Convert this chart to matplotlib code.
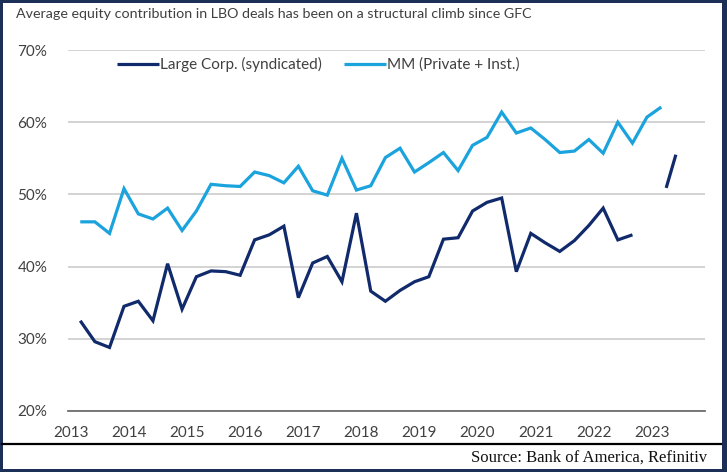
import numpy as np
import pandas as pd
import matplotlib
matplotlib.use("Agg")
import matplotlib.pyplot as plt
from matplotlib.patches import Rectangle
from matplotlib.lines import Line2D
from matplotlib import font_manager

# ---------------- data ----------------
mm_dates = pd.date_range("2013-03-01", "2023-03-01", freq="3MS")
mm_values = [46.2, 46.2, 44.6, 50.8, 47.3, 46.6, 48.1, 45.0, 47.7, 51.4,
             51.2, 51.1, 53.1, 52.6, 51.6, 53.9, 50.5, 49.9, 55.0, 50.6,
             51.2, 55.1, 56.4, 53.1, 54.4, 55.8, 53.3, 56.8, 57.9, 61.4,
             58.5, 59.2, 57.6, 55.8, 56.0, 57.6, 55.7, 60.0, 57.1, 60.7,
             62.1]

lc_dates_hist = pd.date_range("2013-03-01", "2022-12-01", freq="3MS")
lc_values_hist = [32.5, 29.6, 28.8, 34.5, 35.2, 32.5, 40.4, 34.1, 38.6, 39.4,
                  39.3, 38.8, 43.7, 44.4, 45.6, 35.7, 40.5, 41.4, 37.9, 47.4,
                  36.6, 35.2, 36.7, 37.9, 38.6, 43.8, 44.0, 47.7, 48.9, 49.5,
                  39.3, 44.6, 43.3, 42.1, 43.6, 45.7, 48.1, 43.7, 44.4, np.nan]
lc_dates_recent = ["2023-04-01", "2023-06-01"]
lc_values_recent = [50.9, 55.5]

series_names = ["Large Corp. (syndicated)", "MM (Private + Inst.)"]
y_ticks = [20, 30, 40, 50, 60, 70]
x_years = list(range(2013, 2024))
title = "Average equity contribution in LBO deals has been on a structural climb since GFC"
source = "Source: Bank of America, Refinitiv"

# ---------------- style ----------------
avail = {f.name for f in font_manager.fontManager.ttflist}
main_font = [f for f in ["Lato", "Roboto", "DejaVu Sans"] if f in avail]
plt.rcParams["font.family"] = main_font

navy = "#102a6b"
light = "#1ba3dd"
txt = "#404040"

fig = plt.figure(figsize=(7.27, 4.72), dpi=100)
ax = fig.add_axes([68 / 727, 1 - 411 / 472, (705 - 68) / 727, (411 - 50) / 472])

lc_dates = list(lc_dates_hist) + list(pd.to_datetime(lc_dates_recent))
lc_values = lc_values_hist + lc_values_recent

ax.plot(lc_dates, lc_values, color=navy, lw=2.3, label=series_names[0],
        solid_joinstyle="miter", solid_capstyle="butt")
ax.plot(mm_dates, mm_values, color=light, lw=2.3, label=series_names[1],
        solid_joinstyle="miter", solid_capstyle="butt")

ax.set_ylim(20, 70)
ax.set_yticks(y_ticks)
ax.set_yticklabels([f"{v}%" for v in y_ticks])
ax.set_xlim(pd.Timestamp("2012-12-14"), pd.Timestamp("2023-12-01"))
ax.set_xticks([pd.Timestamp(f"{y}-01-01") for y in x_years])
ax.set_xticklabels([str(y) for y in x_years])

ax.grid(axis="y", color="#c8c8c8", lw=1.1)
ax.set_axisbelow(True)
for s in ["top", "right", "left"]:
    ax.spines[s].set_visible(False)
ax.spines["bottom"].set_color("#6e6e6e")
ax.spines["bottom"].set_linewidth(1.3)
ax.tick_params(axis="both", length=0, labelsize=11, colors=txt)
ax.tick_params(axis="x", pad=10.5)
ax.tick_params(axis="y", pad=15)

leg = ax.legend(loc="upper left", bbox_to_anchor=(117 / 727, 1 - 57 / 472),
                bbox_transform=fig.transFigure, ncol=2, frameon=False,
                fontsize=11, handlelength=2.75, handletextpad=0.05,
                columnspacing=1.45, borderpad=0, borderaxespad=0)
for t in leg.get_texts():
    t.set_color(txt)

fig.text(16 / 727, 1 - 14 / 472, title, ha="left", va="center",
         fontsize=10.3, color=txt)

fig.text(707 / 727, 1 - 458 / 472, source, ha="right", va="center",
         fontsize=12, color="#111111", family=["Liberation Serif", "DejaVu Serif"])

# separator line and frame
fig.add_artist(Line2D([2 / 727, 721 / 727], [1 - 443.5 / 472] * 2,
                      transform=fig.transFigure, color="black", lw=1.6))
frame = "#1c2f57"
fig.add_artist(Rectangle((0, 0), 2.5 / 727, 1, transform=fig.transFigure, color=frame, lw=0))
fig.add_artist(Rectangle((0, 1 - 2.5 / 472), 1, 2.5 / 472, transform=fig.transFigure, color=frame, lw=0))
fig.add_artist(Rectangle((1 - 5.5 / 727, 0), 5.5 / 727, 1, transform=fig.transFigure, color=frame, lw=0))
fig.add_artist(Rectangle((0, 0), 1, 3 / 472, transform=fig.transFigure, color=frame, lw=0))

fig.savefig("out.png", dpi=100)
